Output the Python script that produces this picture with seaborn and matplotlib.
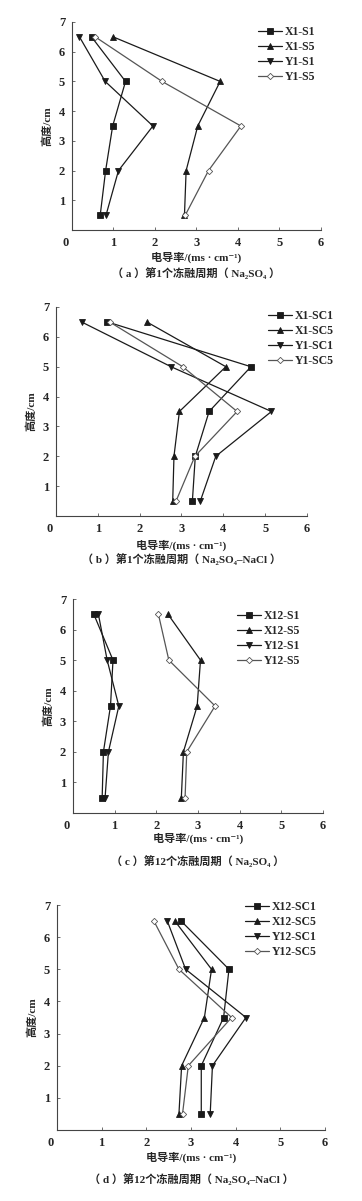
import numpy as np
import pandas as pd
import matplotlib
matplotlib.use("Agg")
import matplotlib.pyplot as plt
import matplotlib.transforms as mtransforms
import seaborn as sns

sns.set_style("ticks")
plt.rcParams['font.family'] = ['Liberation Serif', 'Noto Sans CJK SC', 'DejaVu Sans']
plt.rcParams['font.weight'] = 'bold'

# alturas de medida (cm)
altura = [6.5, 5, 3.5, 2, 0.5]

# (a) ciclo 1, Na2SO4
a_labels = ["X1-S1", "X1-S5", "Y1-S1", "Y1-S5"]
a_X1_S1 = [0.47, 1.29, 0.98, 0.81, 0.68]
a_X1_S5 = [0.99, 3.57, 3.03, 2.75, 2.71]
a_Y1_S1 = [0.18, 0.80, 1.95, 1.12, 0.82]
a_Y1_S5 = [0.56, 2.17, 4.07, 3.29, 2.73]

# (b) ciclo 1, Na2SO4-NaCl
b_labels = ["X1-SC1", "X1-SC5", "Y1-SC1", "Y1-SC5"]
b_X1_SC1 = [1.23, 4.66, 3.66, 3.33, 3.26]
b_X1_SC5 = [2.17, 4.06, 2.95, 2.82, 2.79]
b_Y1_SC1 = [0.61, 2.75, 5.15, 3.82, 3.45]
b_Y1_SC5 = [1.28, 3.03, 4.33, 3.32, 2.87]

# (c) ciclo 12, Na2SO4
c_labels = ["X12-S1", "X12-S5", "Y12-S1", "Y12-S5"]
c_X12_S1 = [0.50, 0.96, 0.90, 0.73, 0.70]
c_X12_S5 = [2.28, 3.06, 2.98, 2.65, 2.60]
c_Y12_S1 = [0.61, 0.82, 1.10, 0.85, 0.77]
c_Y12_S5 = [2.05, 2.30, 3.41, 2.73, 2.69]

# (d) ciclo 12, Na2SO4-NaCl
d_labels = ["X12-SC1", "X12-SC5", "Y12-SC1", "Y12-SC5"]
d_X12_SC1 = [2.78, 3.85, 3.73, 3.23, 3.23]
d_X12_SC5 = [2.64, 3.46, 3.30, 2.79, 2.73]
d_Y12_SC1 = [2.47, 2.88, 4.23, 3.48, 3.43]
d_Y12_SC5 = [2.17, 2.73, 3.91, 2.94, 2.81]

captions = [
    "（ a ）第1个冻融周期（ Na₂SO₄ ）",
    "（ b ）第1个冻融周期（ Na₂SO₄–NaCl ）",
    "（ c ）第12个冻融周期（ Na₂SO₄ ）",
    "（ d ）第12个冻融周期（ Na₂SO₄–NaCl ）",
]

paneles = [
    (a_labels, [a_X1_S1, a_X1_S5, a_Y1_S1, a_Y1_S5]),
    (b_labels, [b_X1_SC1, b_X1_SC5, b_Y1_SC1, b_Y1_SC5]),
    (c_labels, [c_X12_S1, c_X12_S5, c_Y12_S1, c_Y12_S5]),
    (d_labels, [d_X12_SC1, d_X12_SC5, d_Y12_SC1, d_Y12_SC5]),
]

W, H = 362, 1201
# cajas de ejes en pixeles: x0, x1, ytop, ybottom
cajas = [(72, 321, 22, 230), (56, 307, 307, 516), (73, 323, 599, 813), (57, 325, 905, 1130)]
# posicion de la leyenda (x del inicio de linea, y de la primera fila)
leyendas = [(262, 33), (272, 317), (241, 617), (249, 908)]
xlab_y = [257, 545, 838, 1157]
cap_y = [273, 559, 861, 1179]

marcadores = ['s', '^', 'v', 'D']
colores = ['#1a1a1a', '#1a1a1a', '#1a1a1a', '#555555']

fig = plt.figure(figsize=(W / 100, H / 100), dpi=100)

for i, (labels, series) in enumerate(paneles):
    x0, x1, yt, yb = cajas[i]
    ax = fig.add_axes([x0 / W, 1 - yb / H, (x1 - x0) / W, (yb - yt) / H])
    filas = []
    for lab, vals in zip(labels, series):
        for v, h in zip(vals, altura):
            filas.append({'serie': lab, 'cond': v, 'altura': h})
    df = pd.DataFrame(filas)
    for j, lab in enumerate(labels):
        sub = df[df['serie'] == lab]
        abierto = marcadores[j] == 'D'
        sns.lineplot(data=sub, x='cond', y='altura', sort=False, ax=ax,
                     color=colores[j], lw=0.9, marker=marcadores[j],
                     markersize=3.2 if abierto else 4.0,
                     markerfacecolor='white' if abierto else colores[j],
                     markeredgecolor=colores[j], markeredgewidth=0.6,
                     label=lab, estimator=None)
    ax.set_xlim(0, 6)
    ax.set_ylim(0, 7)
    ax.set_xticks(range(0, 7))
    ax.set_yticks(range(1, 8))
    ax.tick_params(direction='in', length=2.5, width=0.6, color='#555555',
                   labelsize=9, pad=5)
    # el "0" del eje x algo desplazado a la izquierda
    lbl0 = ax.get_xticklabels()[0]
    lbl0.set_transform(lbl0.get_transform() +
                       mtransforms.ScaledTranslation(-6 / 100, 0, fig.dpi_scale_trans))
    for s in ['top', 'right']:
        ax.spines[s].set_visible(False)
    for s in ['left', 'bottom']:
        ax.spines[s].set_color('#444444')
        ax.spines[s].set_linewidth(0.8)
    ax.set_xlabel('')
    ax.set_ylabel('高度/cm', fontsize=8, fontweight='bold', labelpad=5)
    lx, ly = leyendas[i]
    ax.legend(loc='upper left', bbox_to_anchor=((lx - x0 - 4) / (x1 - x0), 1 - (ly - yt - 7) / (yb - yt)),
              frameon=False, fontsize=8.5, handlelength=2.0, handletextpad=0.3,
              labelspacing=0.25, borderaxespad=0, borderpad=0)
    xc = (x0 + x1) / 2 / W
    fig.text(xc, 1 - xlab_y[i] / H, '电导率/(ms · cm⁻¹)', fontsize=8, ha='center', va='center',
             fontweight='bold')
    fig.text(xc, 1 - cap_y[i] / H, captions[i], fontsize=8, ha='center', va='center',
             fontweight='bold')

fig.savefig('out.png', dpi=100, facecolor='white')
